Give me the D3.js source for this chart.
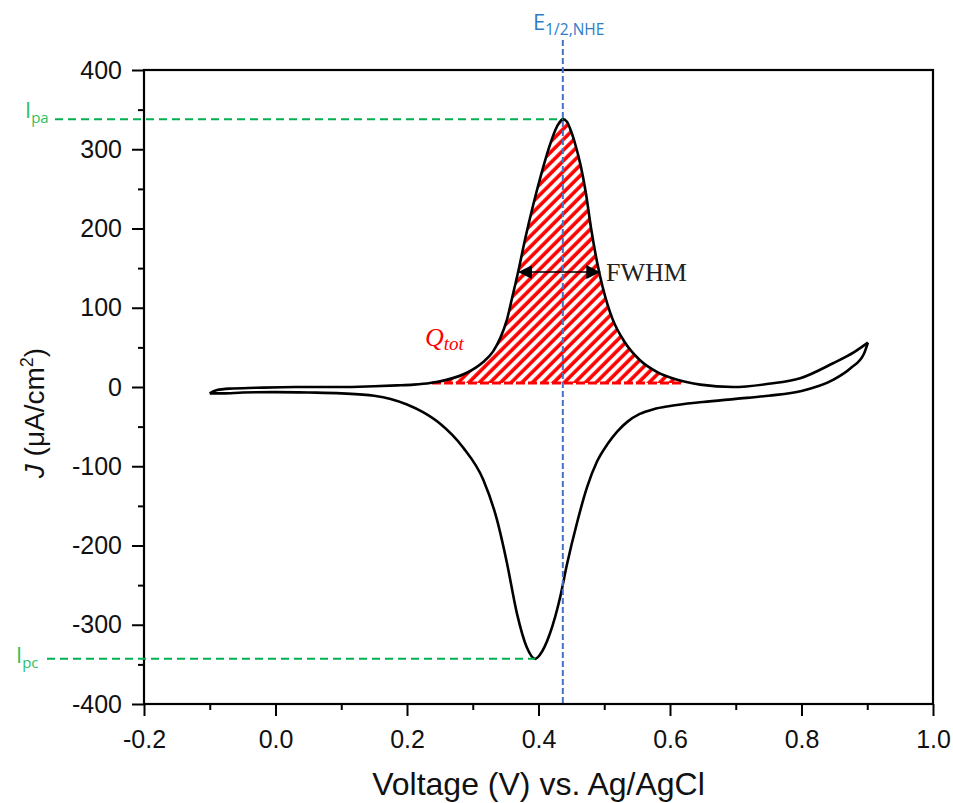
<!DOCTYPE html>
<html>
<head>
<meta charset="utf-8">
<script src="https://cdn.jsdelivr.net/npm/d3@7"></script>
<style>
  html, body { margin: 0; padding: 0; background: #fff; }
  svg { display: block; }
</style>
</head>
<body>
<svg id="chart" width="953" height="803"></svg>
<script>
// ---- Data ----
// Forward (anodic) scan: voltage (V vs Ag/AgCl) and current density (µA/cm²)
const forwardV = [-0.100, -0.090, -0.070, -0.030, 0.030, 0.100, 0.150, 0.185, 0.210, 0.235, 0.260, 0.291, 0.315, 0.331, 0.342, 0.352, 0.360, 0.369, 0.380, 0.392, 0.404, 0.416, 0.426, 0.432, 0.437, 0.443, 0.449, 0.456, 0.464, 0.472, 0.480, 0.489, 0.497, 0.505, 0.513, 0.530, 0.554, 0.580, 0.611, 0.646, 0.696, 0.750, 0.798, 0.848, 0.880, 0.901];
const forwardJ = [-8, -4, -2, -1, 0, 0, 1, 2, 3, 5, 9, 18, 31, 45, 62, 85, 113, 145, 188, 230, 268, 302, 325, 334, 338, 335, 324, 306, 280, 245, 200, 158, 128, 104, 85, 58, 34, 19, 9, 3, 0, 4, 11, 30, 44, 56];
// Reverse (cathodic) scan
const reverseV = [0.901, 0.895, 0.875, 0.848, 0.800, 0.750, 0.700, 0.650, 0.600, 0.575, 0.554, 0.535, 0.520, 0.505, 0.489, 0.474, 0.459, 0.443, 0.433, 0.417, 0.402, 0.395, 0.382, 0.367, 0.352, 0.337, 0.316, 0.285, 0.250, 0.225, 0.200, 0.175, 0.150, 0.100, 0.050, 0.000, -0.050, -0.080, -0.100];
const reverseJ = [56, 42, 24, 9, -5, -11, -15, -19, -24, -28, -34, -44, -56, -72, -94, -126, -170, -225, -265, -312, -338, -343, -328, -285, -222, -168, -117, -76, -46, -32, -22, -15, -11, -8, -7, -6.5, -7, -8, -8];

// Annotations
const peakAnodic = { v: 0.437, j: 338 };   // I_pa
const peakCathodic = { v: 0.395, j: -343 }; // I_pc
const eHalf = 0.437;                        // E_1/2,NHE line
const fwhmRange = [0.369, 0.494];
const fwhmLevel = 145;
const qtotRange = [0.238, 0.618];
const qtotBase = 5;

const xTicks = [-0.2, 0.0, 0.2, 0.4, 0.6, 0.8, 1.0];
const xMinorTicks = [-0.1, 0.1, 0.3, 0.5, 0.7, 0.9];
const yTicks = [-400, -300, -200, -100, 0, 100, 200, 300, 400];
const yMinorTicks = [-350, -250, -150, -50, 50, 150, 250, 350];

// ---- Layout ----
const svg = d3.select("#chart");
const mLeft = 144, mRight = 933, mTop = 70, mBottom = 704;
const x = d3.scaleLinear().domain([-0.2, 1.0]).range([mLeft, mRight]);
const y = d3.scaleLinear().domain([-400, 400]).range([mBottom, mTop]);

const AX_FONT = "'Liberation Sans', Arial, sans-serif";

// ---- Hatch pattern ----
const defs = svg.append("defs");
const pat = defs.append("pattern")
  .attr("id", "hatch")
  .attr("patternUnits", "userSpaceOnUse")
  .attr("width", 7.5).attr("height", 7.5)
  .attr("patternTransform", "rotate(45)");
pat.append("line")
  .attr("x1", 2).attr("y1", 0).attr("x2", 2).attr("y2", 7.5)
  .attr("stroke", "#ff0000").attr("stroke-width", 3.6);

defs.append("clipPath").attr("id", "qclip")
  .append("rect")
  .attr("x", x(qtotRange[0])).attr("y", mTop)
  .attr("width", x(qtotRange[1]) - x(qtotRange[0]))
  .attr("height", y(qtotBase) - mTop);

const fwd = forwardV.map((v, i) => ({ v, j: forwardJ[i] }));
const rev = reverseV.map((v, i) => ({ v, j: reverseJ[i] }));
const curve = d3.curveMonotoneX;

// Hatched area (Q_tot)
svg.append("path")
  .datum(fwd)
  .attr("clip-path", "url(#qclip)")
  .attr("fill", "url(#hatch)")
  .attr("d", d3.area().curve(curve)
    .x(d => x(d.v)).y0(y(qtotBase)).y1(d => y(d.j)));

svg.append("line")
  .attr("x1", x(qtotRange[0])).attr("x2", x(qtotRange[1]))
  .attr("y1", y(qtotBase)).attr("y2", y(qtotBase))
  .attr("stroke", "#ff0000").attr("stroke-width", 3)
  .attr("stroke-dasharray", "9,3");

// ---- Axes ----
const hy = s => s.replace("\u2212", "-");
const yAxis = d3.axisLeft(y).tickValues(yTicks).tickSize(12).tickPadding(10).tickFormat(d => hy(d3.format("d")(d)));
const yMinor = d3.axisLeft(y).tickValues(yMinorTicks).tickSize(6).tickFormat("");
const xAxis = d3.axisBottom(x).tickValues(xTicks).tickSize(12).tickPadding(14).tickFormat(d => hy(d3.format(".1f")(d)));
const xMinor = d3.axisBottom(x).tickValues(xMinorTicks).tickSize(6).tickFormat("");

function styleAxis(g) {
  g.select(".domain").remove();
  g.selectAll(".tick line").attr("stroke", "#000").attr("stroke-width", 2);
  g.selectAll(".tick text").attr("fill", "#111").style("font-family", AX_FONT).style("font-size", "25px");
}
svg.append("g").attr("transform", `translate(${mLeft},0)`).call(yAxis).call(styleAxis);
svg.append("g").attr("transform", `translate(${mLeft},0)`).call(yMinor).call(styleAxis);
svg.append("g").attr("transform", `translate(0,${mBottom})`).call(xAxis).call(styleAxis);
svg.append("g").attr("transform", `translate(0,${mBottom})`).call(xMinor).call(styleAxis);

// frame
svg.append("rect")
  .attr("x", mLeft).attr("y", mTop)
  .attr("width", mRight - mLeft).attr("height", mBottom - mTop)
  .attr("fill", "none").attr("stroke", "#000").attr("stroke-width", 2.2);

// ---- CV curve ----
const line = d3.line().curve(curve).x(d => x(d.v)).y(d => y(d.j));
svg.append("path").datum(fwd).attr("d", line)
  .attr("fill", "none").attr("stroke", "#000").attr("stroke-width", 2.6);
svg.append("path").datum(rev).attr("d", line)
  .attr("fill", "none").attr("stroke", "#000").attr("stroke-width", 2.6);

// ---- Annotation lines ----
const GREEN = "#00b050", GREEN_TXT = "#2dbf62", BLUE = "#4472c4", BLUE_TXT = "#2e7dc6";
svg.append("line")
  .attr("x1", 55).attr("x2", x(peakAnodic.v))
  .attr("y1", y(peakAnodic.j)).attr("y2", y(peakAnodic.j))
  .attr("stroke", GREEN).attr("stroke-width", 2).attr("stroke-dasharray", "8,5");
svg.append("line")
  .attr("x1", 47).attr("x2", x(peakCathodic.v))
  .attr("y1", y(peakCathodic.j)).attr("y2", y(peakCathodic.j))
  .attr("stroke", GREEN).attr("stroke-width", 2).attr("stroke-dasharray", "8,5");
svg.append("line")
  .attr("x1", x(eHalf)).attr("x2", x(eHalf))
  .attr("y1", 40).attr("y2", mBottom)
  .attr("stroke", BLUE).attr("stroke-width", 2).attr("stroke-dasharray", "6,3");

// Labels I_pa, I_pc
const LBL_FONT = "'Open Sans', 'Noto Sans', sans-serif";
function subLabel(xp, yp, main, sub, color, size, subSize) {
  const t = svg.append("text").attr("x", xp).attr("y", yp)
    .attr("fill", color).style("font-family", LBL_FONT).style("font-size", size + "px");
  t.append("tspan").text(main);
  t.append("tspan").attr("dy", size * 0.22).style("font-size", subSize + "px").text(sub);
  return t;
}
subLabel(25, 118, "I", "pa", GREEN_TXT, 22, 15);
subLabel(16, 663, "I", "pc", GREEN_TXT, 22, 15);
subLabel(533, 30, "E", "1/2,NHE", BLUE_TXT, 22, 15.5);

// FWHM arrow
defs.append("marker").attr("id", "arrowEnd")
  .attr("viewBox", "0 0 10 10").attr("refX", 10).attr("refY", 5)
  .attr("markerWidth", 14).attr("markerHeight", 14).attr("markerUnits", "userSpaceOnUse")
  .attr("orient", "auto")
  .append("path").attr("d", "M0,0 L10,5 L0,10 z").attr("fill", "#000");
defs.append("marker").attr("id", "arrowStart")
  .attr("viewBox", "0 0 10 10").attr("refX", 0).attr("refY", 5)
  .attr("markerWidth", 14).attr("markerHeight", 14).attr("markerUnits", "userSpaceOnUse")
  .attr("orient", "auto")
  .append("path").attr("d", "M10,0 L0,5 L10,10 z").attr("fill", "#000");
svg.append("line")
  .attr("x1", x(fwhmRange[0])).attr("x2", x(fwhmRange[1]))
  .attr("y1", y(fwhmLevel)).attr("y2", y(fwhmLevel))
  .attr("stroke", "#000").attr("stroke-width", 1.5)
  .attr("marker-start", "url(#arrowStart)").attr("marker-end", "url(#arrowEnd)");
svg.append("text").attr("x", 606).attr("y", y(fwhmLevel) + 9)
  .style("font-family", "'Liberation Serif', 'Times New Roman', serif")
  .style("font-size", "26px").attr("fill", "#222").text("FWHM");

// Q_tot label
const q = svg.append("text").attr("x", 425).attr("y", 346)
  .attr("fill", "#ff0000")
  .style("font-family", "'Liberation Serif', 'Times New Roman', serif")
  .style("font-style", "italic").style("font-size", "26px");
q.append("tspan").text("Q");
q.append("tspan").attr("dy", 4).style("font-size", "19px").text("tot");

// Axis titles
svg.append("text").attr("x", (mLeft + mRight) / 2).attr("y", 795)
  .attr("text-anchor", "middle").attr("fill", "#111")
  .style("font-family", AX_FONT).style("font-size", "32px")
  .text("Voltage (V) vs. Ag/AgCl");

const yt = svg.append("text")
  .attr("transform", "translate(44,413) rotate(-90)")
  .attr("text-anchor", "middle").attr("fill", "#111")
  .style("font-family", AX_FONT).style("font-size", "28px");
yt.append("tspan").style("font-style", "italic").text("J");
yt.append("tspan").text(" (μA/cm");
yt.append("tspan").attr("dy", -11).style("font-size", "18px").text("2");
yt.append("tspan").attr("dy", 11).text(")");
</script>
</body>
</html>
